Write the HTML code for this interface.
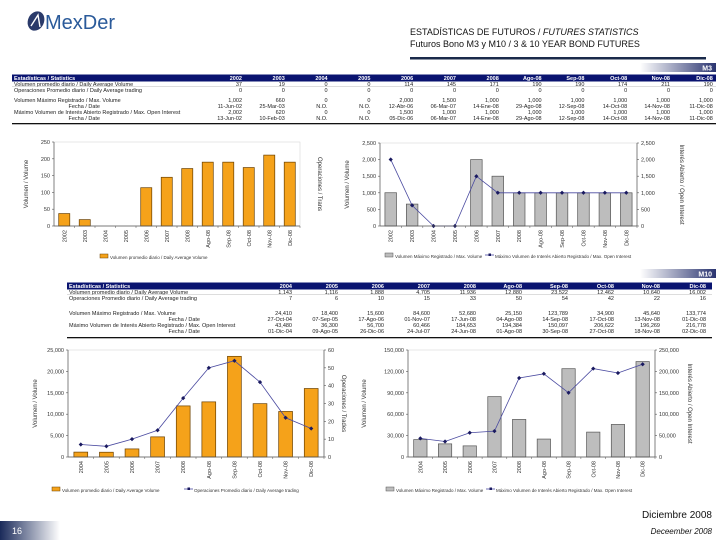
<!DOCTYPE html>
<html><head><meta charset="utf-8"><style>
body{margin:0;background:#fff}
svg{display:block;font-family:"Liberation Sans",sans-serif}
</style></head><body>
<svg id="pg" width="720" height="540" viewBox="0 0 720 540">
<defs>
<linearGradient id="badge" x1="0" x2="1"><stop offset="0" stop-color="#fff"/><stop offset="1" stop-color="#2a3470"/></linearGradient>
<linearGradient id="foot" x1="0" x2="1"><stop offset="0" stop-color="#1a2a5a"/><stop offset="1" stop-color="#fff"/></linearGradient>
</defs>
<g>
<ellipse cx="36" cy="21" rx="8" ry="10" fill="#2a3a6a" transform="rotate(25 36 21)"/>
<path d="M31 26 L38 15 L40 27" stroke="#fff" stroke-width="1.4" fill="none"/>
<text x="45" y="29" font-size="20" fill="#2a5a9a">MexDer</text>
</g>
<text x="410" y="35" font-size="9" fill="#111">ESTADÍSTICAS DE FUTUROS / <tspan font-style="italic">FUTURES STATISTICS</tspan></text>
<text x="410" y="47" font-size="9" fill="#111">Futuros Bono M3 y M10 / 3 &amp; 10 YEAR BOND FUTURES</text>
<rect x="410" y="57" width="296" height="2.5" fill="#1a2a4a"/>
<rect x="640" y="63" width="76" height="9" fill="url(#badge)"/>
<text x="712" y="70.5" font-size="7" fill="#fff" font-weight="bold" text-anchor="end">M3</text>
<rect x="640" y="269" width="76" height="9" fill="url(#badge)"/>
<text x="712" y="276.5" font-size="7" fill="#fff" font-weight="bold" text-anchor="end">M10</text>
<g id="t3"></g>
<g id="t10"></g>
<g id="c1"></g>
<g id="c2"></g>
<g id="c3"></g>
<g id="c4"></g>
<text x="712" y="518" font-size="10" fill="#111" text-anchor="end">Diciembre 2008</text>
<rect x="0" y="521" width="60" height="19" fill="url(#foot)"/>
<text x="12" y="534" font-size="9" fill="#fff">16</text>
<text x="712" y="534" font-size="8" fill="#111" font-style="italic" text-anchor="end">Deceember 2008</text>
</svg>
<script>
// ---- M3 data ----
const m3Cats = ["2002","2003","2004","2005","2006","2007","2008","Ago-08","Sep-08","Oct-08","Nov-08","Dic-08"];
const m3AvgVol = [37,19,0,0,114,145,171,190,190,174,211,190];
const m3AvgOps = [0,0,0,0,0,0,0,0,0,0,0,0];
const m3MaxVol = [1002,660,0,0,2000,1500,1000,1000,1000,1000,1000,1000];
const m3MaxVolDate = ["11-Jun-02","25-Mar-03","N.O.","N.O.","12-Abr-06","06-Mar-07","14-Ene-08","29-Ago-08","12-Sep-08","14-Oct-08","14-Nov-08","11-Dic-08"];
const m3MaxOI = [2002,620,0,0,1500,1000,1000,1000,1000,1000,1000,1000];
const m3MaxOIDate = ["13-Jun-02","10-Feb-03","N.O.","N.O.","05-Dic-06","06-Mar-07","14-Ene-08","29-Ago-08","12-Sep-08","14-Oct-08","14-Nov-08","11-Dic-08"];
const m3VolTicks = [0,50,100,150,200,250];
const m3MaxTicks = [0,500,1000,1500,2000,2500];
// ---- M10 data ----
const m10Cats = ["2004","2005","2006","2007","2008","Ago-08","Sep-08","Oct-08","Nov-08","Dic-08"];
const m10AvgVol = [1143,1116,1888,4705,11936,12880,23522,12462,10640,16002];
const m10AvgOps = [7,6,10,15,33,50,54,42,22,16];
const m10MaxVol = [24410,18400,15600,84600,52680,25150,123789,34900,45640,133774];
const m10MaxVolDate = ["27-Oct-04","07-Sep-05","17-Ago-06","01-Nov-07","17-Jun-08","04-Ago-08","14-Sep-08","17-Oct-08","13-Nov-08","01-Dic-08"];
const m10MaxOI = [43480,36300,56700,60466,184653,194384,150097,206622,196269,216778];
const m10MaxOIDate = ["01-Dic-04","09-Ago-05","26-Dic-06","24-Jul-07","24-Jun-08","01-Ago-08","30-Sep-08","27-Oct-08","18-Nov-08","02-Dic-08"];
const m10VolTicks = [0,5000,10000,15000,20000,25000];
const m10OpsTicks = [0,10,20,30,40,50,60];
const m10MaxTicks = [0,30000,60000,90000,120000,150000];
const m10OITicks = [0,50000,100000,150000,200000,250000];

const NS="http://www.w3.org/2000/svg";
function mk(p,tag,a,txt){const e=document.createElementNS(NS,tag);for(const k in a)e.setAttribute(k,a[k]);if(txt!==undefined)e.textContent=txt;p.appendChild(e);return e;}
const fmt=v=>v.toLocaleString("en-US");

function table(gid,x0,x1,colR0,colStep,hy,rows,cats,line){
  const g=document.getElementById(gid);
  const hdr=mk(g,"rect",{x:x0,y:hy-5.5,width:x1-x0,height:7,fill:"#0a1470"});
  
  
  mk(g,"text",{x:x0+2,y:hy,"font-size":5.5,fill:"#fff","font-weight":"bold"},"Estadísticas / Statistics");
  cats.forEach((c,i)=>mk(g,"text",{x:colR0+i*colStep,y:hy,"font-size":5.5,fill:"#fff","font-weight":"bold","text-anchor":"end"},c));
  rows.forEach(r=>{
    const t=mk(g,"text",{x:r.lx,y:r.y,"font-size":5.5,fill:"#222","text-anchor":r.anchor||"start"},r.label);
    
    
    r.vals.forEach((v,i)=>mk(g,"text",{x:colR0+i*colStep,y:r.y,"font-size":5.5,fill:"#222","text-anchor":"end"},typeof v==="number"?fmt(v):v));
  });
  mk(g,"line",{x1:x0,x2:x1,y1:hy+6.5,y2:hy+6.5,stroke:"#bbb","stroke-width":0.5});
  mk(g,"rect",{x:x0,y:line,width:x1-x0,height:1.3,fill:"#111"});
}
table("t3",12,716,242,42.8,80,[
 {label:"Volumen promedio diario / Daily Average Volume",lx:14,y:86,vals:m3AvgVol},
 {label:"Operaciones Promedio diario / Daily Average trading",lx:14,y:92,vals:m3AvgOps},
 {label:"Volumen Máximo Registrado / Max. Volume",lx:14,y:102,vals:m3MaxVol},
 {label:"Fecha / Date",lx:100,y:108,anchor:"end",vals:m3MaxVolDate},
 {label:"Máximo Volumen de Interés Abierto Registrado / Max. Open Interest",lx:14,y:114,vals:m3MaxOI},
 {label:"Fecha / Date",lx:100,y:120,anchor:"end",vals:m3MaxOIDate}
],m3Cats,123);
table("t10",67,712,292,46,288,[
 {label:"Volumen promedio diario / Daily Average Volume",lx:69,y:294,vals:m10AvgVol},
 {label:"Operaciones Promedio diario / Daily Average trading",lx:69,y:300,vals:m10AvgOps},
 {label:"Volumen Máximo Registrado / Max. Volume",lx:69,y:315,vals:m10MaxVol},
 {label:"Fecha / Date",lx:200,y:321,anchor:"end",vals:m10MaxVolDate},
 {label:"Máximo Volumen de Interés Abierto Registrado / Max. Open Interest",lx:69,y:327,vals:m10MaxOI},
 {label:"Fecha / Date",lx:200,y:333,anchor:"end",vals:m10MaxOIDate}
],m10Cats,337);

function chart(o){
  const g=document.getElementById(o.id);
  const W=o.x1-o.x0,n=o.cats.length,bw=W/n;
  const yL=v=>o.y1-(v/o.lt[o.lt.length-1])*(o.y1-o.y0);
  const yR=o.rt?(v=>o.y1-(v/o.rt[o.rt.length-1])*(o.y1-o.y0)):null;
  const xc=i=>o.x0+bw*(i+0.5);
  mk(g,"rect",{x:o.x0,y:o.y0,width:W,height:o.y1-o.y0,fill:"none",stroke:"#d8d8d8","stroke-width":0.6});
  o.bars.forEach((v,i)=>{
    const b=mk(g,"rect",{x:xc(i)-bw*0.27,y:yL(v),width:bw*0.54,height:o.y1-yL(v),fill:o.bc,stroke:o.be,"stroke-width":0.7});
    
    
  });
  if(o.line){
    const f=o.lineAxis==="R"?yR:yL;
    const pl=mk(g,"polyline",{points:o.line.map((v,i)=>xc(i)+","+f(v)).join(" "),fill:"none",stroke:"#4a4aa0","stroke-width":0.8});
    
    
    o.line.forEach((v,i)=>{
      const p=mk(g,"rect",{x:xc(i)-1.5,y:f(v)-1.5,width:3,height:3,fill:"#1a1a60",transform:`rotate(45 ${xc(i)} ${f(v)})`});
      
      
    });
  }
  mk(g,"line",{x1:o.x0,x2:o.x0,y1:o.y0,y2:o.y1,stroke:"#555","stroke-width":0.7});
  mk(g,"line",{x1:o.x0,x2:o.x1,y1:o.y1,y2:o.y1,stroke:"#555","stroke-width":0.7});
  o.lt.forEach(t=>{mk(g,"line",{x1:o.x0-2,x2:o.x0,y1:yL(t),y2:yL(t),stroke:"#555","stroke-width":0.6});
    mk(g,"text",{x:o.x0-4,y:yL(t)+2,"font-size":5.5,fill:"#333","text-anchor":"end"},fmt(t));});
  if(o.rt){mk(g,"line",{x1:o.x1,x2:o.x1,y1:o.y0,y2:o.y1,stroke:"#555","stroke-width":0.7});
    o.rt.forEach(t=>{mk(g,"line",{x1:o.x1,x2:o.x1+2,y1:yR(t),y2:yR(t),stroke:"#555","stroke-width":0.6});
    mk(g,"text",{x:o.x1+4,y:yR(t)+2,"font-size":5.5,fill:"#333"},fmt(t));});}
  o.cats.forEach((c,i)=>{mk(g,"line",{x1:o.x0+bw*(i+1),x2:o.x0+bw*(i+1),y1:o.y1,y2:o.y1+2,stroke:"#555","stroke-width":0.5});
    mk(g,"text",{x:0,y:0,"font-size":5.5,fill:"#333","text-anchor":"end",transform:`translate(${xc(i)+2},${o.y1+4}) rotate(-90)`},c);});
  const lt=mk(g,"text",{x:0,y:0,"font-size":6,fill:"#333","text-anchor":"middle",transform:`translate(${o.ltx},${(o.y0+o.y1)/2}) rotate(-90)`},o.ltitle);
  
  
  const rtt=mk(g,"text",{x:0,y:0,"font-size":6,fill:"#333","text-anchor":"middle",transform:`translate(${o.rtx},${(o.y0+o.y1)/2}) rotate(90)`},o.rtitle);
  
  
  let lx=o.legX;
  o.legend.forEach(L=>{
    if(L.t==="bar")mk(g,"rect",{x:lx,y:o.legY-5,width:8,height:4,fill:o.bc,stroke:o.be,"stroke-width":0.5});
    else{mk(g,"line",{x1:lx,x2:lx+9,y1:o.legY-3,y2:o.legY-3,stroke:"#4a4aa0","stroke-width":0.8});mk(g,"rect",{x:lx+3.5,y:o.legY-4.5,width:2.5,height:2.5,fill:"#1a1a60"});}
    const e=mk(g,"text",{x:lx+10,y:o.legY,"font-size":4.5,fill:"#333"},L.s);
    
    
    lx+=L.w;
  });
}
chart({id:"c1",x0:54,x1:300,y0:142,y1:226,cats:m3Cats,bars:m3AvgVol,lt:m3VolTicks,bc:"#f5a21a",be:"#6a4000",
  ltx:28,rtx:318,ltitle:"Volumen / Volume",rtitle:"Operaciones / Trans",legX:100,legY:259,
  legend:[{t:"bar",s:"Volumen promedio diario / Daily Average Volume",w:150}]});
chart({id:"c2",x0:380,x1:637,y0:143,y1:226,cats:m3Cats,bars:m3MaxVol,line:m3MaxOI,lineAxis:"R",lt:m3MaxTicks,rt:m3MaxTicks,bc:"#bdbdbd",be:"#555",
  ltx:349,rtx:680,ltitle:"Volumen / Volume",rtitle:"Interés Abierto / Open Interest",legX:385,legY:258,
  legend:[{t:"bar",s:"Volumen Máximo Registrado / Max. Volume",w:100},{t:"line",s:"Máximo Volumen de Interés Abierto Registrado / Max. Open Interest",w:180}]});
chart({id:"c3",x0:68,x1:324,y0:350,y1:457,cats:m10Cats,bars:m10AvgVol,line:m10AvgOps,lineAxis:"R",lt:m10VolTicks,rt:m10OpsTicks,bc:"#f5a21a",be:"#6a4000",
  ltx:37,rtx:342,ltitle:"Volumen / Volume",rtitle:"Operaciones / Trades",legX:52,legY:492,
  legend:[{t:"bar",s:"Volumen promedio diario / Daily Average Volume",w:132},{t:"line",s:"Operaciones Promedio diario / Daily Average trading",w:150}]});
chart({id:"c4",x0:408,x1:655,y0:350,y1:457,cats:m10Cats,bars:m10MaxVol,line:m10MaxOI,lineAxis:"R",lt:m10MaxTicks,rt:m10OITicks,bc:"#bdbdbd",be:"#555",
  ltx:366,rtx:688,ltitle:"Volumen / Volume",rtitle:"Interés Abierto / Open Interest",legX:386,legY:492,
  legend:[{t:"bar",s:"Volumen Máximo Registrado / Max. Volume",w:100},{t:"line",s:"Máximo Volumen de Interés Abierto Registrado / Max. Open Interest",w:180}]});
</script>
</body></html>
